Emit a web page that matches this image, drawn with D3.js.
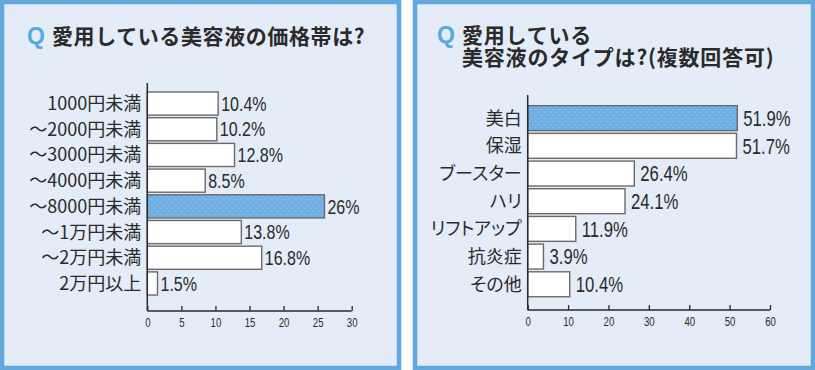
<!DOCTYPE html>
<html><head><meta charset="utf-8">
<script src="https://cdn.jsdelivr.net/npm/d3@7"></script>
<style>
html,body{margin:0;padding:0;background:#fff;}
svg{display:block;}
.cat{font-feature-settings:"palt";}
</style></head>
<body>
<svg id="c" width="815" height="370"></svg>
<script>
// ---- data ----
const priceCategories = ["1000円未満","～2000円未満","～3000円未満","～4000円未満","～8000円未満","～1万円未満","～2万円未満","2万円以上"];
const priceValues = [10.4, 10.2, 12.8, 8.5, 26, 13.8, 16.8, 1.5];
const priceLabels = ["10.4%","10.2%","12.8%","8.5%","26%","13.8%","16.8%","1.5%"];
const priceTicks = [0,5,10,15,20,25,30];
const priceHighlight = "～8000円未満";

const typeCategories = ["美白","保湿","ブースター","ハリ","リフトアップ","抗炎症","その他"];
const typeValues = [51.9, 51.7, 26.4, 24.1, 11.9, 3.9, 10.4];
const typeLabels = ["51.9%","51.7%","26.4%","24.1%","11.9%","3.9%","10.4%"];
const typeTicks = [0,10,20,30,40,50,60];
const typeHighlight = "美白";

const title1 = ["愛用している美容液の価格帯は?"];
const title2 = ["愛用している","美容液のタイプは?(複数回答可)"];

const svg = d3.select("#c");
const CJK = "'Noto Sans CJK JP','Noto Sans CJK SC',sans-serif";
const NUM = "'Liberation Sans','DejaVu Sans',sans-serif";

// pattern for highlighted bar
const defs = svg.append("defs");
const pat = defs.append("pattern").attr("id","dots").attr("patternUnits","userSpaceOnUse")
  .attr("width",6).attr("height",6);
pat.append("rect").attr("width",6).attr("height",6).attr("fill","#6eaee3");
pat.append("circle").attr("cx",1.5).attr("cy",1.5).attr("r",1.1).attr("fill","#86bdea");
pat.append("circle").attr("cx",4.5).attr("cy",4.5).attr("r",1.1).attr("fill","#86bdea");

// panels
function panel(x, w){
  svg.append("rect").attr("x",x+2).attr("y",2).attr("width",w-4).attr("height",366)
    .attr("fill","#e4ecf7").attr("stroke","#62a8df").attr("stroke-width",4.5);
}
panel(0,401);
panel(413,402);

function title(x, lines, y0, dy, ls){
  svg.append("text").attr("x",x).attr("y",y0).text("Q")
    .attr("font-family","'Liberation Sans','DejaVu Sans',sans-serif").attr("font-weight","bold")
    .attr("font-size",23).attr("fill","#55a8e2");
  const t = svg.append("text").attr("y",y0)
    .attr("font-family",CJK).attr("font-weight","bold").attr("font-size",21)
    .attr("letter-spacing",ls).attr("fill","#2a2a2a");
  lines.forEach((l,i)=>{
    t.append("tspan").attr("x",x+25).attr("y",y0+i*dy).text(l);
  });
}
title(27, title1, 44, 0, 0.6);
title(437, title2, 43, 22, 0.8);

function chart(o){
  const g = svg.append("g");
  const x = d3.scaleLinear().domain([o.ticks[0], o.ticks[o.ticks.length-1]]).range([o.x0, o.x1]);
  const y = d3.scaleBand().domain(o.cats).range([o.y0, o.y1]).paddingInner(0.1).paddingOuter(0.05);
  // bars
  g.selectAll("rect.bar").data(o.cats).join("rect").attr("class","bar")
    .attr("x",x(0)).attr("y",d=>y(d)).attr("height",y.bandwidth())
    .attr("width",(d,i)=>x(o.vals[i])-x(0))
    .attr("fill",d=>d===o.hl?"url(#dots)":"#fff")
    .attr("stroke","#6a6a6a").attr("stroke-width",1.4);
  // value labels (condensed)
  g.selectAll("text.val").data(o.cats).join("text").attr("class","val")
    .attr("transform",(d,i)=>`translate(${x(o.vals[i])+o.gap},${y(d)+y.bandwidth()/2+o.vsize*0.36}) scale(${o.vscale},1)`)
    .text((d,i)=>o.labels[i]).attr("font-family",NUM).attr("font-size",o.vsize).attr("fill","#2a2a2a");
  // category labels
  g.selectAll("text.cat").data(o.cats).join("text").attr("class","cat")
    .attr("x",o.x0-6).attr("y",d=>y(d)+y.bandwidth()/2+o.csize*0.36)
    .attr("text-anchor","end").text(d=>d)
    .attr("font-family",CJK).attr("font-size",o.csize).attr("fill","#2a2a2a");
  // axes
  const ax = d3.axisBottom(x).tickValues(o.ticks).tickSize(-5).tickPadding(0).tickFormat(d3.format("d"));
  const ag = g.append("g").attr("transform",`translate(0,${o.axisY})`).call(ax);
  ag.select(".domain").remove();
  ag.selectAll(".tick line").attr("stroke","#2a2a2a").attr("stroke-width",1.3);
  ag.selectAll(".tick text").attr("y",null).attr("dy",null)
    .attr("transform","translate(0,16) scale(0.8,1)")
    .attr("font-family",NUM).attr("font-size",12).attr("fill","#2a2a2a");
  g.append("line").attr("x1",o.x0).attr("x2",o.x1).attr("y1",o.axisY).attr("y2",o.axisY)
    .attr("stroke","#2a2a2a").attr("stroke-width",1.5);
  g.append("line").attr("x1",o.x0).attr("x2",o.x0).attr("y1",o.axisTop).attr("y2",o.axisY)
    .attr("stroke","#2a2a2a").attr("stroke-width",1.5);
}

chart({cats:priceCategories, vals:priceValues, labels:priceLabels, ticks:priceTicks, hl:priceHighlight,
  x0:147.3, x1:351.7, y0:90.7, y1:296.3, axisY:311, axisTop:83, gap:3, vsize:20, vscale:0.8, csize:18});
chart({cats:typeCategories, vals:typeValues, labels:typeLabels, ticks:typeTicks, hl:typeHighlight,
  x0:527.7, x1:770, y0:104.3, y1:298.1, axisY:310, axisTop:95, gap:6, vsize:22, vscale:0.76, csize:18});
</script>
</body></html>
